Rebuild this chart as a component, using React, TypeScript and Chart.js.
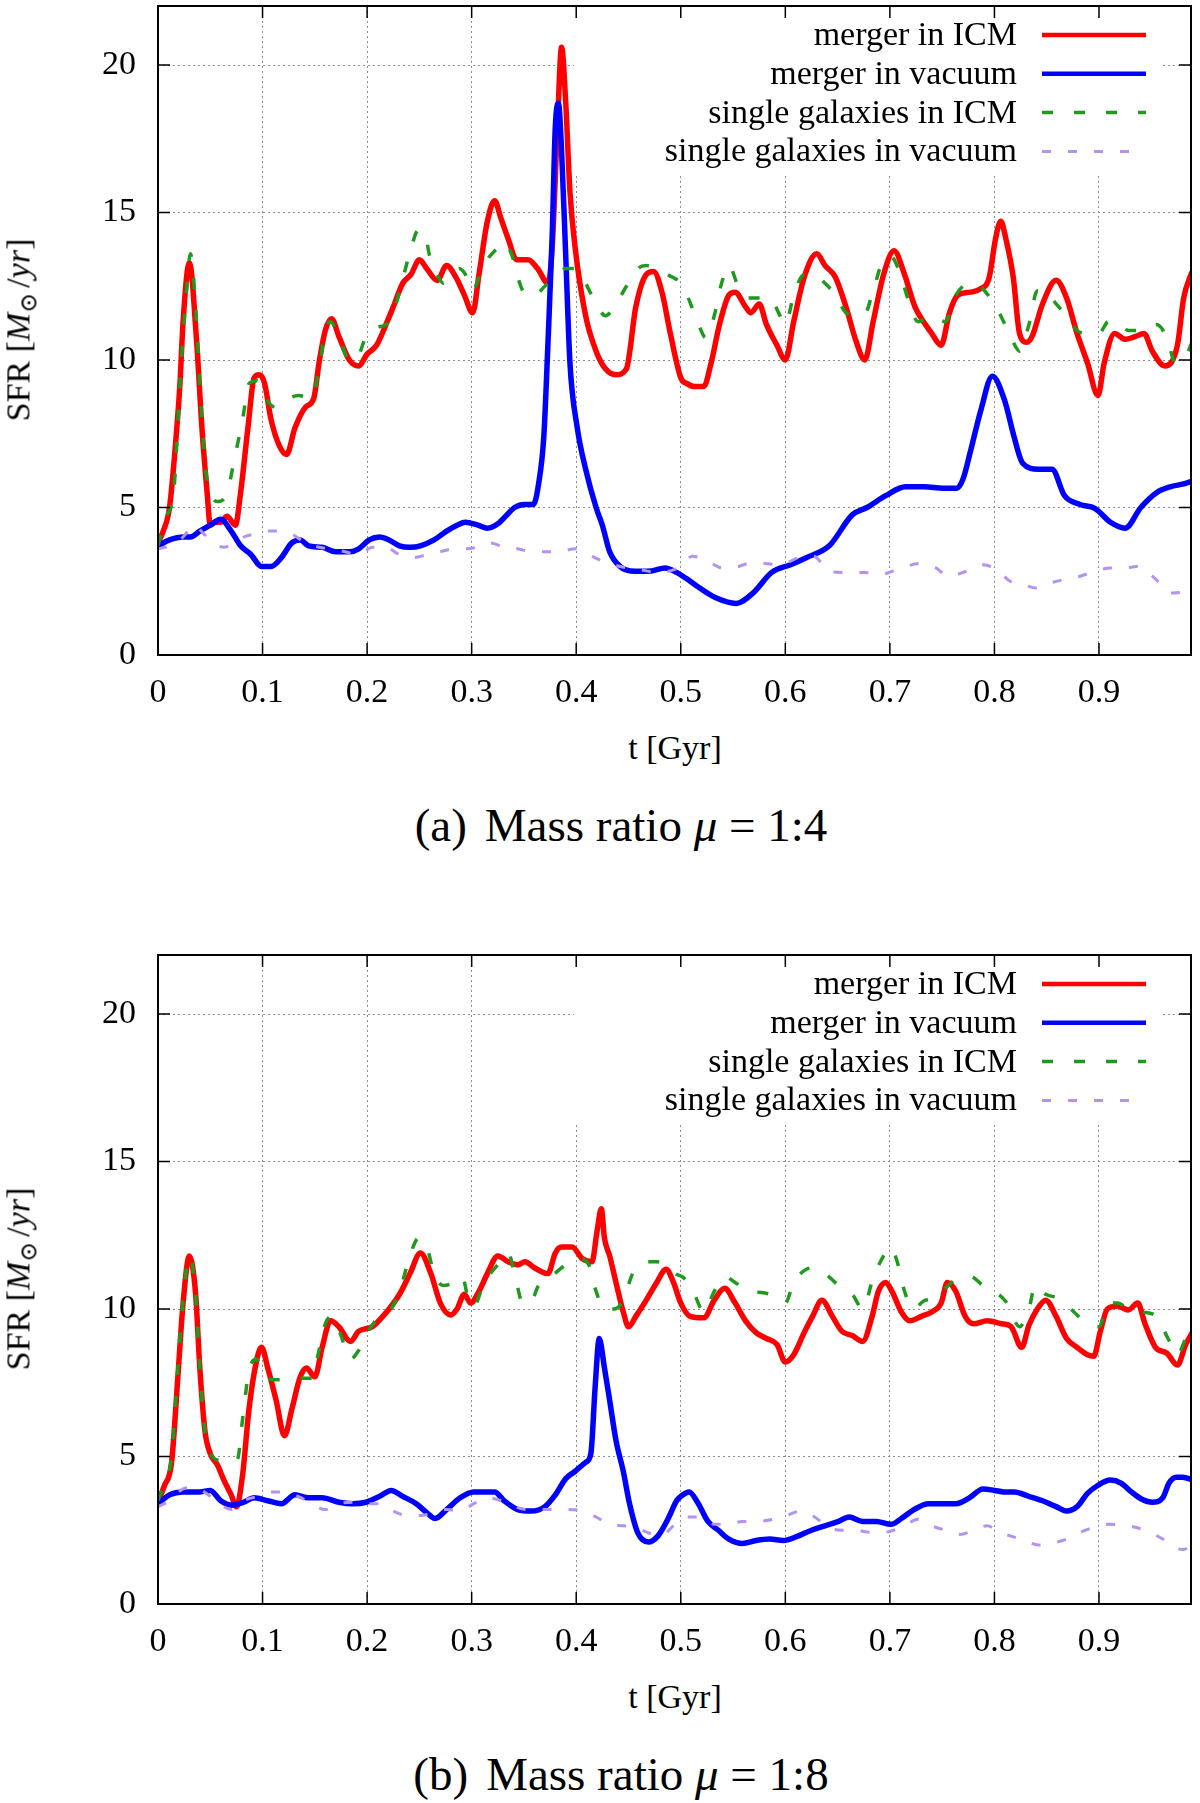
import { useEffect, useRef } from "react";
import Chart from "chart.js/auto";

type Pt = [number, number];

// ---- (a) mass ratio 1:4 ----
const redA: Pt[] = [[0,3.8],[.005,4.2],[.011,5.0],[.018,7.7],[.021,9.2],[.024,11.3],[.030,13.3],[.037,10.6],[.042,7.7],[.047,5.5],[.050,4.4],[.055,4.5],[.060,4.5],[.066,4.7],[.074,4.4],[.079,5.5],[.086,7.7],[.092,9.4],[.097,9.5],[.102,9.2],[.108,8.0],[.116,7.1],[.123,6.8],[.131,7.7],[.141,8.4],[.149,8.7],[.154,9.9],[.160,11.0],[.166,11.4],[.173,10.8],[.183,10.0],[.192,9.8],[.200,10.2],[.209,10.5],[.218,11.2],[.225,11.8],[.234,12.6],[.242,12.9],[.250,13.4],[.257,13.1],[.267,12.7],[.276,13.2],[.285,12.8],[.293,12.2],[.301,11.6],[.307,12.9],[.315,14.7],[.322,15.4],[.328,14.8],[.335,14.1],[.343,13.4],[.354,13.4],[.363,13.1],[.373,12.6],[.377,13.8],[.382,17.9],[.386,20.6],[.390,18.7],[.394,15.7],[.399,13.8],[.409,11.5],[.419,10.3],[.428,9.7],[.438,9.5],[.448,9.7],[.457,11.8],[.467,12.9],[.474,13.0],[.482,12.3],[.490,10.9],[.500,9.4],[.506,9.2],[.513,9.1],[.522,9.1],[.529,9.9],[.537,11.2],[.546,12.2],[.552,12.3],[.562,11.8],[.567,11.6],[.575,11.9],[.582,11.2],[.592,10.5],[.600,10.0],[.608,11.3],[.618,12.8],[.630,13.6],[.638,13.2],[.648,12.8],[.658,11.8],[.668,10.6],[.676,10.0],[.684,11.3],[.694,12.9],[.704,13.7],[.714,12.9],[.724,11.8],[.734,11.2],[.740,10.9],[.749,10.5],[.757,11.6],[.765,12.2],[.777,12.3],[.786,12.4],[.795,12.8],[.801,14.1],[.806,14.7],[.811,14.1],[.818,12.8],[.824,10.9],[.831,10.6],[.836,10.8],[.846,11.9],[.859,12.7],[.869,12.1],[.879,10.9],[.889,9.9],[.899,8.8],[.905,9.9],[.915,10.9],[.925,10.7],[.935,10.8],[.943,10.9],[.951,10.3],[.963,9.8],[.975,10.5],[.981,12.1],[.989,13.0]];
const blueA: Pt[] = [[0,3.7],[.011,3.9],[.024,4.0],[.031,4.0],[.040,4.2],[.050,4.4],[.060,4.6],[.070,4.2],[.079,3.7],[.089,3.4],[.099,3.0],[.108,3.0],[.118,3.3],[.128,3.8],[.136,3.9],[.144,3.7],[.157,3.65],[.170,3.5],[.183,3.5],[.192,3.6],[.202,3.9],[.212,4.0],[.221,3.9],[.231,3.7],[.241,3.65],[.251,3.7],[.264,3.9],[.276,4.2],[.286,4.4],[.294,4.5],[.306,4.4],[.315,4.3],[.325,4.45],[.335,4.8],[.341,5.0],[.351,5.1],[.359,5.1],[.364,5.8],[.369,7.4],[.373,10.6],[.377,14.2],[.380,17.9],[.383,18.7],[.386,17.1],[.390,13.5],[.394,9.9],[.401,7.7],[.409,6.3],[.419,5.0],[.425,4.4],[.432,3.5],[.442,3.0],[.452,2.85],[.462,2.84],[.472,2.85],[.485,2.95],[.496,2.8],[.505,2.6],[.515,2.35],[.533,1.95],[.553,1.75],[.569,2.1],[.587,2.8],[.605,3.06],[.620,3.3],[.642,3.7],[.664,4.75],[.678,5.0],[.696,5.4],[.715,5.7],[.733,5.7],[.751,5.65],[.764,5.65],[.770,5.97],[.777,6.9],[.787,8.3],[.798,9.45],[.810,8.6],[.818,7.5],[.827,6.5],[.842,6.3],[.855,6.3],[.867,5.4],[.882,5.1],[.896,4.97],[.911,4.5],[.925,4.3],[.940,5.0],[.955,5.5],[.968,5.7],[.981,5.8],[.990,5.9]];
const greenA: Pt[] = [[0,3.7],[.008,4.7],[.015,5.5],[.021,9.2],[.027,12.2],[.031,13.6],[.036,11.8],[.040,9.2],[.045,6.5],[.050,5.5],[.057,5.2],[.066,5.5],[.074,6.8],[.081,8.0],[.087,9.2],[.095,9.3],[.103,8.7],[.112,8.4],[.121,8.6],[.134,8.8],[.147,8.7],[.154,9.7],[.160,11.0],[.165,11.3],[.173,10.8],[.183,10.0],[.189,10.0],[.199,10.8],[.209,11.1],[.218,11.2],[.225,11.6],[.233,12.6],[.241,13.65],[.249,14.4],[.255,14.3],[.260,13.5],[.267,12.9],[.273,12.6],[.280,12.8],[.288,13.1],[.294,12.9],[.301,12.35],[.307,12.8],[.315,13.4],[.325,13.8],[.331,14.0],[.339,13.5],[.346,12.6],[.352,12.2],[.360,12.2],[.370,12.5],[.380,12.8],[.390,13.1],[.399,13.1],[.409,12.6],[.419,11.9],[.428,11.5],[.438,11.9],[.448,12.5],[.459,13.1],[.467,13.2],[.477,13.1],[.487,12.9],[.500,12.6],[.506,12.2],[.516,11.3],[.524,10.75],[.532,11.5],[.539,12.6],[.546,13.2],[.555,12.5],[.565,12.1],[.575,12.1],[.585,12.1],[.595,11.5],[.600,11.2],[.608,12.2],[.618,12.9],[.628,12.9],[.638,12.6],[.648,12.2],[.658,11.6],[.668,11.5],[.676,11.55],[.684,12.35],[.694,13.4],[.701,13.5],[.711,12.8],[.717,12.1],[.727,11.3],[.740,11.5],[.753,11.3],[.763,12.2],[.777,12.6],[.786,12.5],[.796,12.1],[.806,11.5],[.816,10.75],[.824,10.3],[.833,11.2],[.841,12.35],[.849,12.35],[.859,11.9],[.869,11.5],[.879,11.0],[.889,10.9],[.900,10.9],[.909,11.3],[.918,11.3],[.928,11.0],[.942,11.0],[.955,11.2],[.965,10.75],[.973,9.9],[.981,10.0],[.989,10.6]];
const purpleA: Pt[] = [[0,3.6],[.011,3.7],[.024,4.0],[.034,4.4],[.044,4.1],[.053,3.8],[.063,3.65],[.073,3.8],[.082,4.0],[.092,4.1],[.105,4.2],[.118,4.2],[.128,4.1],[.141,3.8],[.154,3.65],[.166,3.6],[.179,3.5],[.192,3.4],[.205,3.65],[.218,3.65],[.231,3.4],[.244,3.3],[.257,3.4],[.270,3.5],[.283,3.6],[.296,3.6],[.309,3.7],[.318,3.8],[.331,3.65],[.344,3.6],[.357,3.5],[.370,3.5],[.383,3.5],[.399,3.6],[.412,3.4],[.424,3.2],[.442,3.0],[.460,2.9],[.478,2.8],[.500,3.0],[.511,3.35],[.525,3.2],[.540,2.95],[.555,3.0],[.565,3.1],[.580,3.1],[.595,3.06],[.613,3.3],[.627,3.35],[.642,2.84],[.656,2.8],[.675,2.8],[.691,2.73],[.707,2.9],[.729,3.1],[.744,2.95],[.756,2.67],[.773,2.84],[.789,3.06],[.802,2.9],[.815,2.5],[.827,2.4],[.840,2.27],[.853,2.44],[.867,2.56],[.882,2.67],[.896,2.84],[.911,2.95],[.925,2.95],[.936,3.0],[.947,2.8],[.958,2.44],[.969,2.1],[.980,2.16],[.989,2.44]];

// ---- (b) mass ratio 1:8 ----
const redB: Pt[] = [[0,3.45],[.006,4.0],[.013,4.8],[.019,7.7],[.024,10.2],[.030,11.8],[.036,10.5],[.040,8.0],[.045,5.84],[.050,5.1],[.057,4.7],[.063,4.2],[.070,3.7],[.075,3.3],[.081,4.4],[.087,6.6],[.094,8.2],[.099,8.7],[.105,8.0],[.113,6.9],[.121,5.7],[.128,6.6],[.136,7.7],[.142,8.0],[.150,7.7],[.157,8.7],[.165,9.6],[.173,9.4],[.184,8.9],[.192,9.25],[.205,9.4],[.215,9.75],[.221,10.0],[.231,10.5],[.241,11.2],[.251,11.9],[.261,11.2],[.270,10.2],[.280,9.8],[.286,10.0],[.293,10.5],[.299,10.2],[.307,10.6],[.315,11.2],[.325,11.8],[.335,11.6],[.344,11.5],[.351,11.6],[.360,11.4],[.373,11.2],[.380,11.9],[.386,12.1],[.396,12.1],[.406,11.7],[.415,11.6],[.420,12.65],[.424,13.4],[.427,12.4],[.432,11.8],[.438,10.9],[.445,9.9],[.450,9.4],[.457,9.75],[.467,10.3],[.477,10.9],[.486,11.35],[.493,10.9],[.500,10.2],[.509,9.75],[.522,9.7],[.532,10.3],[.542,10.7],[.552,10.2],[.562,9.6],[.572,9.2],[.582,9.0],[.592,8.8],[.600,8.2],[.608,8.45],[.618,9.2],[.626,9.75],[.635,10.3],[.645,9.75],[.654,9.25],[.664,9.1],[.674,8.9],[.683,9.75],[.689,10.6],[.696,10.9],[.702,10.6],[.711,9.9],[.719,9.6],[.730,9.75],[.740,9.9],[.749,10.2],[.755,10.9],[.763,10.6],[.772,9.75],[.780,9.5],[.793,9.6],[.807,9.5],[.816,9.4],[.826,8.7],[.833,9.45],[.841,10.0],[.849,10.3],[.859,9.75],[.869,9.0],[.879,8.7],[.889,8.45],[.895,8.4],[.901,9.2],[.908,10.0],[.918,10.1],[.928,9.97],[.937,10.2],[.944,9.5],[.954,8.7],[.965,8.5],[.975,8.1],[.983,8.8],[.990,9.25]];
const blueB: Pt[] = [[0,3.4],[.011,3.7],[.024,3.8],[.040,3.8],[.050,3.85],[.060,3.5],[.071,3.35],[.082,3.45],[.092,3.6],[.105,3.5],[.118,3.4],[.131,3.7],[.144,3.6],[.157,3.6],[.173,3.45],[.186,3.4],[.199,3.45],[.212,3.65],[.223,3.85],[.234,3.65],[.247,3.4],[.257,3.1],[.265,2.9],[.276,3.2],[.289,3.6],[.302,3.8],[.315,3.8],[.322,3.8],[.331,3.5],[.344,3.2],[.357,3.15],[.370,3.3],[.380,3.7],[.390,4.25],[.399,4.5],[.409,4.8],[.414,5.1],[.418,7.3],[.422,9.0],[.427,8.0],[.432,6.9],[.438,5.55],[.445,4.5],[.451,3.4],[.459,2.4],[.469,2.1],[.478,2.3],[.488,2.9],[.496,3.5],[.500,3.65],[.508,3.8],[.516,3.45],[.526,2.8],[.536,2.5],[.546,2.2],[.559,2.05],[.572,2.15],[.585,2.2],[.598,2.15],[.612,2.3],[.625,2.5],[.638,2.65],[.651,2.8],[.661,2.95],[.674,2.8],[.687,2.8],[.701,2.7],[.711,2.9],[.723,3.2],[.737,3.4],[.750,3.4],[.763,3.4],[.776,3.6],[.789,3.9],[.800,3.85],[.809,3.8],[.819,3.8],[.833,3.65],[.846,3.5],[.859,3.3],[.869,3.15],[.879,3.3],[.889,3.75],[.898,4.0],[.911,4.2],[.921,4.1],[.931,3.8],[.941,3.55],[.951,3.45],[.961,3.6],[.967,4.1],[.974,4.3],[.980,4.3],[.990,4.2]];
const greenB: Pt[] = [[0,3.5],[.006,4.1],[.013,5.0],[.019,8.0],[.024,10.3],[.030,11.8],[.036,10.5],[.040,8.0],[.045,5.84],[.050,5.1],[.060,4.85],[.070,4.8],[.076,4.9],[.081,6.3],[.087,7.9],[.094,8.3],[.102,7.7],[.112,7.6],[.121,7.6],[.134,7.65],[.147,7.65],[.154,8.6],[.160,9.5],[.166,9.75],[.174,9.2],[.184,8.3],[.192,8.6],[.202,9.3],[.212,9.75],[.221,9.9],[.231,10.6],[.241,11.8],[.249,12.4],[.257,12.1],[.265,11.1],[.273,10.8],[.283,10.9],[.291,11.1],[.297,10.3],[.302,10.1],[.312,10.9],[.325,11.5],[.335,11.9],[.341,11.2],[.349,10.2],[.356,10.2],[.364,10.8],[.376,11.1],[.390,11.5],[.403,11.7],[.412,11.5],[.419,10.6],[.427,10.0],[.436,10.0],[.445,10.3],[.454,11.2],[.467,11.6],[.477,11.6],[.487,11.5],[.495,11.2],[.503,11.05],[.513,10.5],[.522,9.9],[.532,10.6],[.542,11.1],[.552,10.9],[.565,10.6],[.579,10.55],[.592,10.4],[.600,10.2],[.608,10.9],[.618,11.3],[.626,11.4],[.638,11.2],[.651,10.8],[.664,10.5],[.674,10.0],[.684,11.05],[.694,11.8],[.701,12.1],[.707,11.6],[.714,10.6],[.722,10.0],[.734,10.3],[.743,10.35],[.753,10.7],[.763,11.0],[.777,11.1],[.789,10.8],[.802,10.55],[.812,10.2],[.824,9.4],[.833,10.0],[.839,10.8],[.849,10.5],[.862,10.35],[.876,9.9],[.889,9.5],[.900,9.4],[.909,10.2],[.918,10.2],[.928,10.0],[.941,9.9],[.955,9.75],[.966,9.0],[.975,8.45],[.983,9.0],[.990,9.4]];
const purpleB: Pt[] = [[0,3.3],[.011,3.5],[.024,3.9],[.034,3.95],[.044,3.8],[.057,3.45],[.070,3.2],[.082,3.5],[.095,3.65],[.108,3.8],[.121,3.8],[.134,3.65],[.147,3.4],[.160,3.2],[.173,3.4],[.186,3.45],[.199,3.4],[.212,3.4],[.225,3.15],[.238,3.0],[.251,3.0],[.264,3.1],[.276,3.2],[.289,3.15],[.302,3.4],[.315,3.6],[.328,3.5],[.341,3.3],[.354,3.2],[.367,3.2],[.380,3.2],[.393,3.2],[.406,3.15],[.419,2.95],[.432,2.7],[.445,2.65],[.457,2.6],[.470,2.4],[.483,2.36],[.493,2.65],[.506,2.95],[.519,2.95],[.532,2.7],[.546,2.7],[.559,2.8],[.572,2.8],[.588,2.87],[.601,3.0],[.615,3.15],[.628,2.95],[.641,2.6],[.654,2.5],[.667,2.5],[.681,2.43],[.694,2.43],[.711,2.6],[.727,2.87],[.740,2.65],[.753,2.5],[.767,2.36],[.780,2.5],[.793,2.65],[.805,2.43],[.816,2.3],[.829,2.15],[.842,2.0],[.856,2.07],[.869,2.2],[.882,2.43],[.895,2.6],[.909,2.7],[.922,2.68],[.935,2.6],[.948,2.43],[.961,2.2],[.971,1.93],[.981,1.85],[.990,2.07]];

const xTicks = [0, 0.1, 0.2, 0.3, 0.4, 0.5, 0.6, 0.7, 0.8, 0.9];
const yTicks = [0, 5, 10, 15, 20];
const seriesNames = ["merger in ICM", "merger in vacuum", "single galaxies in ICM", "single galaxies in vacuum"];

const SERIF = '"Liberation Serif", "Times New Roman", "DejaVu Serif", serif';

// gnuplot-ish frame, inward ticks and the opaque key box
const gnuFrame = {
  id: "gnuFrame",
  beforeDatasetsDraw(chart: any) {
    const { ctx, chartArea: a } = chart;
    ctx.save();
    ctx.fillStyle = "#fff";
    ctx.fillRect(574, a.top + 1, 589, 168);
    ctx.restore();
  },
  afterDraw(chart: any) {
    const { ctx, chartArea: a, scales } = chart;
    ctx.save();
    ctx.strokeStyle = "#000";
    ctx.lineWidth = 1.5;
    ctx.setLineDash([]);
    ctx.beginPath();
    xTicks.forEach((v) => {
      const px = scales.x.getPixelForValue(v);
      ctx.moveTo(px, a.bottom);
      ctx.lineTo(px, a.bottom - 12);
      ctx.moveTo(px, a.top);
      ctx.lineTo(px, a.top + 12);
    });
    yTicks.forEach((v) => {
      const py = scales.y.getPixelForValue(v);
      ctx.moveTo(a.left, py);
      ctx.lineTo(a.left + 12, py);
      ctx.moveTo(a.right, py);
      ctx.lineTo(a.right - 12, py);
    });
    ctx.stroke();
    ctx.lineWidth = 2;
    ctx.strokeRect(a.left, a.top, a.right - a.left, a.bottom - a.top);

    // key
    ctx.font = `34px ${SERIF}`;
    ctx.fillStyle = "#000";
    ctx.textAlign = "right";
    ctx.textBaseline = "middle";
    chart.data.datasets.forEach((ds: any, i: number) => {
      const y = a.top + 29 + i * 38.8;
      ctx.fillText(ds.label, 1017, y + 1);
      ctx.strokeStyle = ds.borderColor;
      ctx.lineWidth = ds.legendWidth;
      ctx.setLineDash(ds.borderDash || []);
      ctx.beginPath();
      ctx.moveTo(1042, y);
      ctx.lineTo(ds.legendEnd, y);
      ctx.stroke();
    });
    ctx.restore();
  },
};

type PanelProps = { top: number; red: Pt[]; blue: Pt[]; green: Pt[]; purple: Pt[]; tag: string; ratio: string };

function Panel({ top, red, blue, green, purple, tag, ratio }: PanelProps) {
  const ref = useRef<HTMLCanvasElement | null>(null);

  useEffect(() => {
    if (!ref.current) return;
    const toXY = (pts: Pt[]) => pts.map(([x, y]) => ({ x, y }));
    const chart = new Chart(ref.current, {
      type: "line",
      data: {
        datasets: [
          { label: seriesNames[0], data: toXY(red), borderColor: "#ff0000", borderWidth: 5.5, order: 4, legendWidth: 4.5, legendEnd: 1146 } as any,
          { label: seriesNames[1], data: toXY(blue), borderColor: "#0000ff", borderWidth: 5.5, order: 3, legendWidth: 4.5, legendEnd: 1146 } as any,
          { label: seriesNames[2], data: toXY(green), borderColor: "#1f9a1f", borderWidth: 3.5, borderDash: [11, 21], order: 2, legendWidth: 3.5, legendEnd: 1146 } as any,
          { label: seriesNames[3], data: toXY(purple), borderColor: "#b393ef", borderWidth: 3, borderDash: [9, 17], order: 1, legendWidth: 3, legendEnd: 1130 } as any,
        ],
      },
      options: {
        animation: false,
        responsive: false,
        layout: { padding: { top: 6, right: 9, left: 0, bottom: 0 } },
        plugins: { legend: { display: false }, tooltip: { enabled: false } },
        elements: { point: { radius: 0 }, line: { cubicInterpolationMode: "monotone", fill: false } },
        scales: {
          x: {
            type: "linear",
            min: 0,
            max: 0.988,
            afterFit: (s: any) => { s.height = 65; s.paddingLeft = 0; s.paddingRight = 0; },
            afterBuildTicks: (s: any) => { s.ticks = xTicks.map((value) => ({ value })); },
            ticks: {
              autoSkip: false,
              maxRotation: 0,
              padding: 18,
              color: "#000",
              font: { family: SERIF, size: 34 },
              callback: (v: any) => String(Math.round(Number(v) * 10) / 10),
            },
            grid: { color: "#8c8c8c", lineWidth: 1, drawTicks: false },
            border: { display: false, dash: [2, 3] },
          },
          y: {
            min: 0,
            max: 22,
            afterFit: (s: any) => { s.width = 158; s.paddingTop = 0; s.paddingBottom = 0; },
            afterBuildTicks: (s: any) => { s.ticks = yTicks.map((value) => ({ value })); },
            ticks: {
              padding: 22,
              color: "#000",
              font: { family: SERIF, size: 34 },
              callback: (v: any) => String(v),
            },
            grid: { color: "#8c8c8c", lineWidth: 1, drawTicks: false },
            border: { display: false, dash: [2, 3] },
          },
        },
      },
      plugins: [gnuFrame],
    });
    return () => chart.destroy();
  }, [red, blue, green, purple]);

  const abs = { position: "absolute" as const, whiteSpace: "nowrap" as const, color: "#000", fontFamily: SERIF };

  return (
    <>
      <canvas ref={ref} width={1200} height={720} style={{ position: "absolute", left: 0, top, width: 1200, height: 720 }} />
      <div style={{ ...abs, left: 21, top: top + 330, fontSize: 34, transform: "translate(-50%, -50%) rotate(-90deg)" }}>
        SFR [<i>M</i>
        <sub style={{ fontSize: "0.7em", verticalAlign: "-0.3em" }}>⊙</sub>
        <span style={{ marginLeft: 5 }}>/</span>
        <i>yr</i>]
      </div>
      <div style={{ ...abs, left: 675, top: top + 748, fontSize: 34, transform: "translate(-50%, -50%)" }}>t [Gyr]</div>
      <div style={{ ...abs, left: 621, top: top + 825, fontSize: 47, transform: "translate(-50%, -50%)" }}>
        ({tag})<span style={{ marginLeft: 18 }}>Mass ratio </span>
        <i>μ</i> = {ratio}
      </div>
    </>
  );
}

export default function App() {
  return (
    <div style={{ position: "absolute", left: 0, top: 0, width: 1200, height: 1803, background: "#fff", overflow: "hidden" }}>
      <Panel top={0} red={redA} blue={blueA} green={greenA} purple={purpleA} tag="a" ratio="1:4" />
      <Panel top={949} red={redB} blue={blueB} green={greenB} purple={purpleB} tag="b" ratio="1:8" />
    </div>
  );
}
